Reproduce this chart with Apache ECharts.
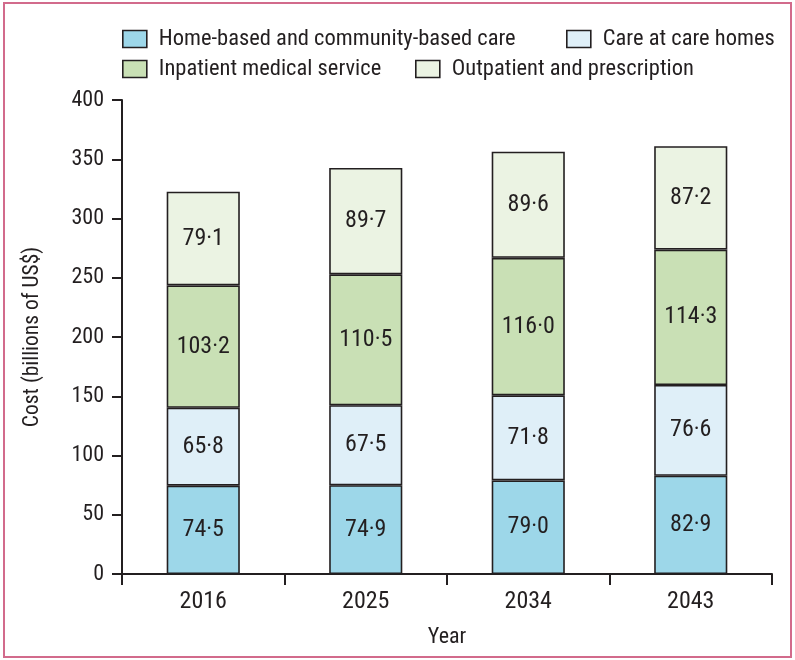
<!DOCTYPE html>
<html>
<head>
<meta charset="utf-8">
<script src="https://cdn.jsdelivr.net/npm/echarts@6/dist/echarts.min.js"></script>
<style>
html,body{margin:0;padding:0;background:#fff;}
#frame{position:absolute;left:3px;top:2px;width:789px;height:656px;border:2px solid #d26b8c;box-sizing:border-box;}
#c{position:absolute;left:0;top:0;width:795px;height:660px;}
</style>
</head>
<body>
<div id="frame"></div>
<div id="c"></div>
<script>
const years = ['2016', '2025', '2034', '2043'];
const seriesNames = ['Home-based and community-based care', 'Care at care homes', 'Inpatient medical service', 'Outpatient and prescription'];
const homeCare = [74.5, 74.9, 79.0, 82.9];
const careHomes = [65.8, 67.5, 71.8, 76.6];
const inpatient = [103.2, 110.5, 116.0, 114.3];
const outpatient = [79.1, 89.7, 89.6, 87.2];
const yTicks = [0, 50, 100, 150, 200, 250, 300, 350, 400];

const colors = ['#9dd7e9', '#dfeff8', '#c9e0b5', '#ebf3e3'];
const INK = '#231f20';
const FONT = "'Liberation Sans Narrow', 'Arial Narrow', 'Roboto Condensed', 'Open Sans', sans-serif";

const chart = echarts.init(document.getElementById('c'));
const dataSets = [homeCare, careHomes, inpatient, outpatient];
const series = dataSets.map((d, i) => ({
  name: seriesNames[i],
  type: 'bar',
  stack: 'total',
  barWidth: '45%',
  data: d,
  itemStyle: { color: colors[i], borderColor: INK, borderWidth: 1.6 },
  label: {
    show: true,
    position: 'inside',
    color: INK,
    fontSize: 24,
    fontFamily: FONT,
    formatter: p => p.value.toFixed(1).replace('.', '·')
  },
  emphasis: { disabled: true }
}));

function legendAt(name, left, top) {
  return {
    data: [name],
    left: left,
    top: top,
    padding: 0,
    itemWidth: 24,
    itemHeight: 17,
    icon: 'rect',
    textStyle: { fontSize: 22.5, lineHeight: 24, fontFamily: FONT, color: INK, padding: [0, 0, 0, 7] },
    itemStyle: { borderColor: INK, borderWidth: 1.6 },
    selectedMode: false
  };
}

chart.setOption({
  animation: false,
  legend: [
    legendAt(seriesNames[0], 122, 27),
    legendAt(seriesNames[1], 566, 27),
    legendAt(seriesNames[2], 122, 57),
    legendAt(seriesNames[3], 415, 57)
  ],
  grid: { left: 122, right: 23, top: 100, bottom: 86, containLabel: false },
  xAxis: {
    type: 'category',
    data: years,
    name: 'Year',
    nameLocation: 'middle',
    nameGap: 52,
    nameTextStyle: { fontSize: 22, fontFamily: FONT, color: INK },
    axisLine: { lineStyle: { color: INK, width: 2 } },
    axisTick: { show: true, length: 11, lineStyle: { color: INK, width: 2 } },
    axisLabel: { fontSize: 24, fontFamily: FONT, color: INK, margin: 16 }
  },
  yAxis: {
    type: 'value',
    min: 0,
    max: 400,
    interval: 50,
    name: 'Cost (billions of US$)',
    nameLocation: 'middle',
    nameGap: 78,
    nameTextStyle: { fontSize: 21.5, fontFamily: FONT, color: INK },
    axisLine: { show: true, lineStyle: { color: INK, width: 2 } },
    axisTick: { show: true, length: 10, lineStyle: { color: INK, width: 2 } },
    axisLabel: { fontSize: 22, fontFamily: FONT, color: INK, margin: 18,
      formatter: v => yTicks.includes(v) ? String(v) : '' },
    splitLine: { show: false }
  },
  series: series
});
</script>
</body>
</html>
